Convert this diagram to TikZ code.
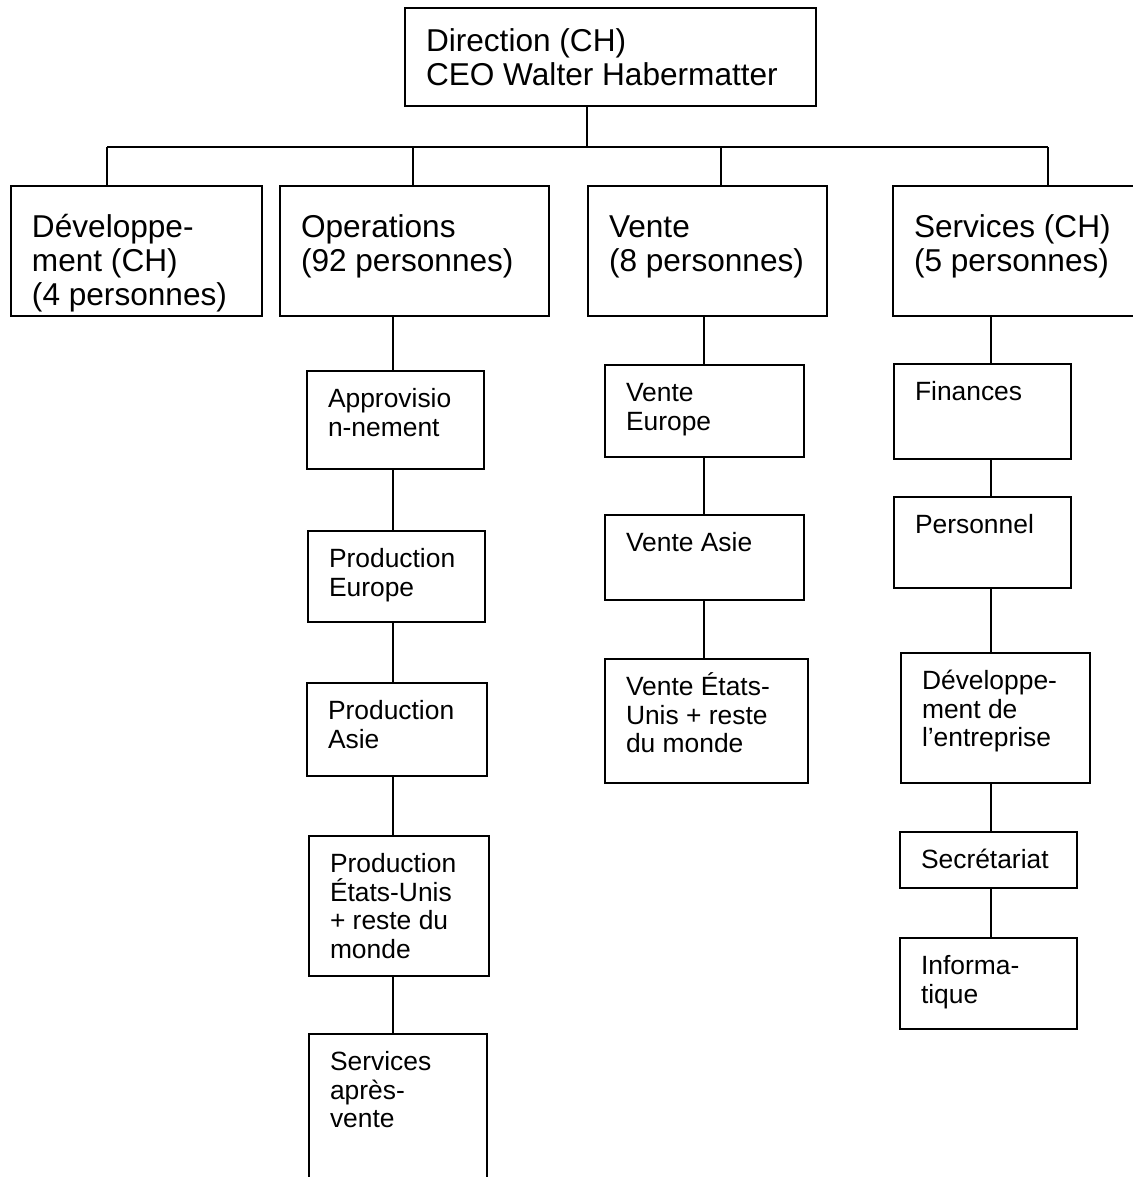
\documentclass[tikz,border=0pt]{standalone}
\usepackage{fontspec}
\setmainfont{Liberation Sans}
\usepackage{tikz}
\usetikzlibrary{positioning, calc}

\newdimen\pxu
\pxu=0.5pt
% fixed size text block, top aligned, sizes in pixels
\newcommand{\orgtext}[3]{\parbox[t][#2\pxu][t]{#1\pxu}{\raggedright\lineskiplimit=-10pt\strut#3}}

\tikzset{
	orgbox/.style={draw, line width=1pt, anchor=north west, inner xsep=10.5pt},
	headbox/.style={orgbox, inner ysep=14pt, font=\fontsize{15.8}{17}\selectfont},
	subbox/.style={orgbox, inner ysep=8.5pt, font=\fontsize{13.2}{14.2}\selectfont},
	link/.style={line width=0.8pt},
}

\begin{document}
\begin{tikzpicture}[x=0.5pt, y=-0.5pt]
			\path[use as bounding box] (0,0) rectangle (1133,1177);
			\clip (0,0) rectangle (1133,1177);
			
			% top and first level
			\node [headbox, inner ysep=10pt] (dir) at (404,7) {\orgtext{369}{58}{Direction (CH)\\CEO Walter Habermatter}};
			\node [headbox] (dev) at (10,185) {\orgtext{209}{74}{Développe-\\ment (CH)\\(4 personnes)}};
			\node [headbox] (ops) at (279,185) {\orgtext{227}{74}{Operations\\(92 personnes)}};
			\node [headbox] (vente) at (587,185) {\orgtext{197}{74}{Vente\\(8 personnes)}};
			\node [headbox] (serv) at (892,185) {\orgtext{216}{74}{Services (CH)\\(5 personnes)}};
			
			% operations
			\node [subbox] (appro) at (306,370) {\orgtext{135}{64}{Approvisio\\n-nement}};
			\node [subbox] (proeu) at (307,530) {\orgtext{135}{57}{Production\\Europe}};
			\node [subbox] (proas) at (306,682) {\orgtext{138}{59}{Production\\Asie}};
			\node [subbox] (prous) at (308,835) {\orgtext{138}{106}{Production\\États-Unis\\+ reste du\\monde}};
			\node [subbox] (sav) at (308,1033) {\orgtext{136}{133}{Services\\après-\\vente}};
			
			% vente
			\node [subbox] (veu) at (604,364) {\orgtext{157}{58}{Vente\\Europe}};
			\node [subbox] (vas) at (604,514) {\orgtext{157}{51}{Vente Asie}};
			\node [subbox] (vus) at (604,658) {\orgtext{161}{90}{Vente \smash{États-}\\Unis + reste\\du monde}};
			
			% services
			\node [subbox] (fin) at (893,363) {\orgtext{135}{61}{Finances}};
			\node [subbox] (pers) at (893,496) {\orgtext{135}{57}{Personnel}};
			\node [subbox] (devent) at (900,652) {\orgtext{147}{96}{Développe-\\ment de\\l’entreprise}};
			\node [subbox] (secr) at (899,831) {\orgtext{135}{22}{Secrétariat}};
			\node [subbox] (info) at (899,937) {\orgtext{135}{57}{Informa-\\tique}};
			
			% bus
			\coordinate (b0) at (587,147);
			\coordinate (b1) at (107,147);
			\coordinate (b2) at (413,147);
			\coordinate (b3) at (721,147);
			\coordinate (b4) at (1048,147);
			\draw [link] (b1) -- (b4);
			\draw [link] (dir.south -| b0) -- (b0);
			\foreach \n/\b in {dev/b1, ops/b2, vente/b3, serv/b4}
			\draw [link] (\b) -- (\n.north -| \b);
			
			% columns
			\coordinate (c1) at (393,0);
			\coordinate (c2) at (704,0);
			\coordinate (c3) at (991,0);
			\foreach \a/\b in {ops/appro, appro/proeu, proeu/proas, proas/prous, prous/sav}
			\draw [link] (\a.south -| c1) -- (\b.north -| c1);
			\foreach \a/\b in {vente/veu, veu/vas, vas/vus}
			\draw [link] (\a.south -| c2) -- (\b.north -| c2);
			\foreach \a/\b in {serv/fin, fin/pers, pers/devent, devent/secr, secr/info}
			\draw [link] (\a.south -| c3) -- (\b.north -| c3);
\end{tikzpicture}
\end{document}
